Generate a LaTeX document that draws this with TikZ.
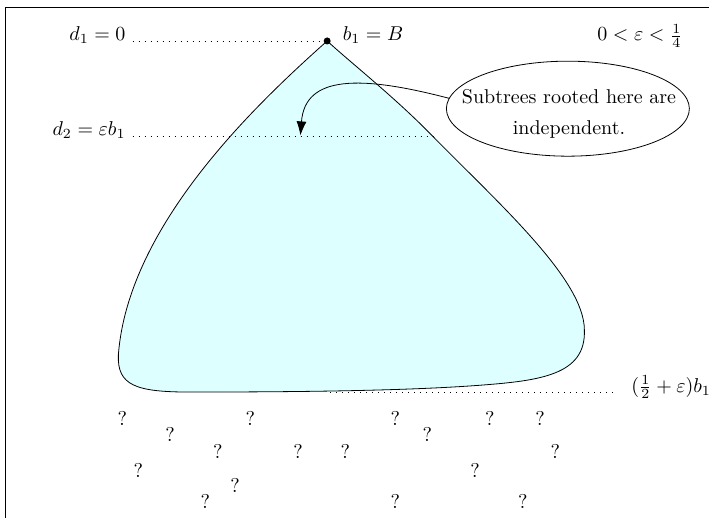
\documentclass[tikz,border=0pt]{standalone}
\usetikzlibrary{shapes.geometric, arrows.meta}
\definecolor{treefill}{RGB}{222,255,255}
\begin{document}
\begin{tikzpicture}[guide/.style={dash pattern=on .5pt off 2.5pt}]
  \useasboundingbox (-5.75,0.72) rectangle (6.71,-8.38);
  \draw (-5.65,-8.38) |- (6.71,0.59);
  % the tree
  \filldraw[fill=treefill] (0,0) .. controls (-1.27,-1.13) and (-3.5,-3.25) .. (-3.67,-5.52)
    .. controls (-3.69,-6.05) and (-3.37,-6.17) .. (-2.41,-6.17)
    .. controls (0.05,-6.17) and (1.63,-6.13) .. (2.69,-6.05)
    .. controls (3.74,-5.97) and (4.55,-5.87) .. (4.52,-5.08)
    .. controls (4.52,-4.2) and (3.04,-2.88) .. (1.85,-1.67)
    .. controls (1.2,-1) and (0.4,-0.37) .. (0,0) -- cycle;
  \node[circle, fill, inner sep=0pt, minimum size=3.5pt] (root) at (0,0) {};
  \node[anchor=base west] (bone) at (0.15,0) {$b_1 = B$};
  \node[anchor=base east] (done) at (-3.42,0) {$d_1 = 0$};
  \node[anchor=base east] (dtwo) at (-3.42,-1.67) {$d_2 = \varepsilon b_1$};
  \node[anchor=base] (eps) at (5.5,0) {$0 < \varepsilon < \frac{1}{4}$};
  \node[anchor=base west] (half) at (5.22,-6.17) {$(\frac{1}{2} + \varepsilon)b_1$};
  \coordinate (dtwoend) at (1.93,-1.67);
  \coordinate (halfstart) at (0.05,-6.17);
  \draw[guide] (done.base east) -- (root);
  \draw[guide] (dtwo.base east) -- (dtwoend);
  \draw[guide] (halfstart) -- ([xshift=-4pt]half.base west);
  % the note
  \node[draw, ellipse, minimum width=121.5pt, minimum height=47.5pt] (note) at (4.23,-1.19) {};
  \node[align=center] (notetext) at (4.25,-1.29) {Subtrees rooted here are\\[3.5pt] independent.};
  \coordinate (tgt) at (-0.47,-1.66);
  \draw[-{Latex[length=7pt,width=5pt]}] (note.175) .. controls (0.58,-0.6) and (-0.39,-0.6) .. (tgt);
  % unknown subtrees
  \foreach \x/\y [count=\i] in {-3.6/-6.64, -1.35/-6.64, 1.2/-6.64, 2.86/-6.64, 3.74/-6.64,
      -2.76/-6.92, 1.76/-6.92, -1.92/-7.21, -0.51/-7.21, 0.32/-7.21, 4.01/-7.21,
      -3.32/-7.54, 2.6/-7.54, -1.62/-7.82, -2.14/-8.1, 1.2/-8.1, 3.44/-8.1}
    \node (q\i) at (\x,\y) {?};
\end{tikzpicture}
\end{document}
